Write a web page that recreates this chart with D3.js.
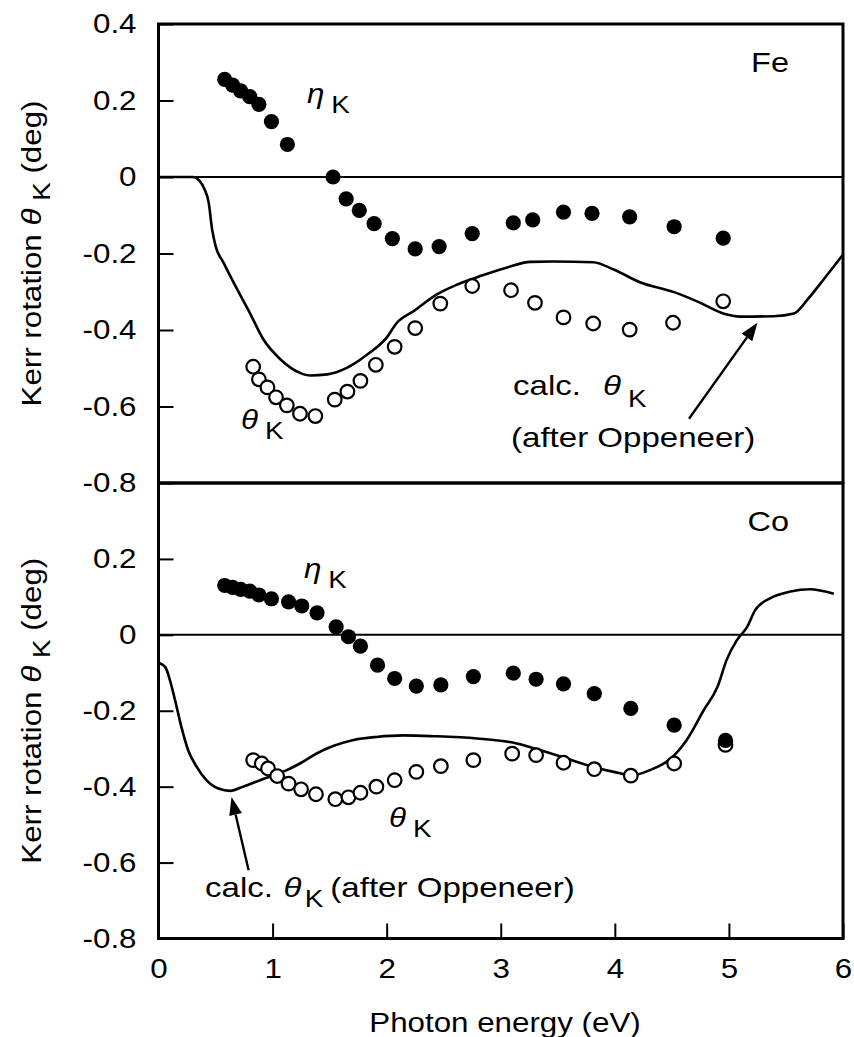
<!DOCTYPE html>
<html>
<head>
<meta charset="utf-8">
<script src="https://cdn.jsdelivr.net/npm/d3@7"></script>
<style>
  body { margin: 0; background: #fff; }
  svg { display: block; }
  text { font-family: "Liberation Sans", Arial, Helvetica, sans-serif; fill: #000; }
</style>
</head>
<body>
<svg id="chart" width="854" height="1037"></svg>
<script>
// Axis ticks
const xTicks = [0, 1, 2, 3, 4, 5, 6];
const yTicksFe = [0.4, 0.2, 0, -0.2, -0.4, -0.6, -0.8];
const yTicksCo = [0.2, 0, -0.2, -0.4, -0.6, -0.8];

// Fe: measured Kerr ellipticity (filled) and rotation (open), [photon energy eV, deg]
const feEta = [
  [0.58, 0.255], [0.65, 0.24], [0.72, 0.225], [0.80, 0.21], [0.88, 0.19],
  [0.99, 0.145], [1.13, 0.085], [1.53, 0.0], [1.645, -0.057], [1.76, -0.087],
  [1.89, -0.122], [2.05, -0.161], [2.25, -0.188], [2.46, -0.182], [2.75, -0.148],
  [3.11, -0.12], [3.28, -0.112], [3.55, -0.092], [3.80, -0.095], [4.13, -0.104],
  [4.52, -0.13], [4.95, -0.16]
];
const feTheta = [
  [0.83, -0.496], [0.88, -0.529], [0.955, -0.55], [1.03, -0.576], [1.125, -0.597],
  [1.24, -0.619], [1.375, -0.625], [1.545, -0.582], [1.656, -0.561], [1.77, -0.533],
  [1.905, -0.491], [2.07, -0.444], [2.25, -0.395], [2.47, -0.331], [2.75, -0.285],
  [3.09, -0.296], [3.30, -0.329], [3.55, -0.367], [3.81, -0.383], [4.13, -0.399],
  [4.51, -0.381], [4.95, -0.325]
];
// Fe: calculated Kerr rotation (Oppeneer)
const feCalc = [
  [0.0, 0.0], [0.30, 0.0], [0.36, -0.01], [0.40, -0.03], [0.44, -0.067], [0.47, -0.137],
  [0.50, -0.18], [0.57, -0.224], [0.69, -0.294], [0.80, -0.355], [0.92, -0.425],
  [1.07, -0.477], [1.24, -0.512], [1.33, -0.519], [1.48, -0.516], [1.65, -0.499],
  [1.83, -0.464], [2.00, -0.42], [2.09, -0.381], [2.24, -0.35], [2.44, -0.307],
  [2.62, -0.281], [2.82, -0.259], [3.05, -0.237], [3.26, -0.222], [3.46, -0.221],
  [3.81, -0.223], [3.99, -0.242], [4.22, -0.275], [4.52, -0.301], [4.75, -0.329],
  [4.95, -0.357], [5.10, -0.365], [5.39, -0.364], [5.57, -0.357], [5.69, -0.32],
  [5.83, -0.268], [6.0, -0.203]
];

// Co: measured Kerr ellipticity (filled) and rotation (open)
const coEta = [
  [0.58, 0.13], [0.65, 0.125], [0.72, 0.12], [0.80, 0.115], [0.88, 0.105],
  [0.99, 0.095], [1.14, 0.087], [1.256, 0.076], [1.39, 0.058], [1.557, 0.021],
  [1.665, -0.005], [1.77, -0.03], [1.92, -0.08], [2.07, -0.115], [2.26, -0.135],
  [2.475, -0.132], [2.76, -0.11], [3.11, -0.101], [3.31, -0.117], [3.55, -0.129],
  [3.82, -0.155], [4.14, -0.194], [4.52, -0.238], [4.97, -0.278]
];
const coTheta = [
  [0.83, -0.33], [0.905, -0.339], [0.96, -0.352], [1.04, -0.372], [1.14, -0.392],
  [1.25, -0.407], [1.38, -0.42], [1.55, -0.433], [1.665, -0.428], [1.77, -0.416],
  [1.91, -0.40], [2.07, -0.383], [2.26, -0.361], [2.475, -0.346], [2.76, -0.33],
  [3.10, -0.313], [3.31, -0.317], [3.55, -0.337], [3.82, -0.354], [4.14, -0.371],
  [4.52, -0.339], [4.97, -0.29]
];
// Co: calculated Kerr rotation (Oppeneer)
const coCalc = [
  [0.01, -0.075], [0.06, -0.085], [0.10, -0.119], [0.145, -0.172], [0.20, -0.242],
  [0.26, -0.304], [0.335, -0.348], [0.42, -0.383], [0.525, -0.405], [0.63, -0.411],
  [0.74, -0.40], [0.89, -0.383], [1.01, -0.37], [1.12, -0.357], [1.24, -0.339],
  [1.39, -0.312], [1.53, -0.293], [1.71, -0.277], [1.91, -0.269], [2.15, -0.265],
  [2.41, -0.267], [2.79, -0.273], [3.14, -0.286], [3.35, -0.304], [3.58, -0.326],
  [3.81, -0.348], [3.99, -0.361], [4.15, -0.37], [4.31, -0.356], [4.49, -0.326],
  [4.63, -0.277], [4.78, -0.198], [4.90, -0.137], [4.98, -0.066], [5.07, -0.014],
  [5.16, 0.021], [5.23, 0.065], [5.36, 0.096], [5.54, 0.114], [5.71, 0.12], [5.92, 0.108]
];

const svg = d3.select("#chart");
const SX = 1.16;            // horizontal glyph stretch of the lettering
const FS = 27;              // base font size
const FA = 28.5;            // annotation font size

const x = d3.scaleLinear().domain([0, 6]).range([158.5, 843]);
const panels = [
  { name: "Fe", eta: feEta, theta: feTheta, calc: feCalc, ticks: yTicksFe, nameY: 72,
    y: d3.scaleLinear().domain([-0.8, 0.4]).range([483, 24]) },
  { name: "Co", eta: coEta, theta: coTheta, calc: coCalc, ticks: yTicksCo, nameY: 531,
    y: d3.scaleLinear().domain([-0.8, 0.4]).range([938.5, 483]) }
];

const fmt = d => d === 0 ? "0" : d.toFixed(1);

// Text helper: stretched lettering anchored at (px, py)
function label(g, px, py, anchor, size) {
  return g.append("text")
    .attr("transform", `translate(${px},${py}) scale(${SX},1)`)
    .attr("text-anchor", anchor || "start")
    .style("font-size", (size || FS) + "px");
}

panels.forEach(p => {
  const g = svg.append("g");
  const y = p.y;
  const [x0, x1] = x.range();
  const [yb, yt] = y.range();

  // zero line
  g.append("line")
    .attr("x1", x0).attr("x2", x1)
    .attr("y1", y(0)).attr("y2", y(0))
    .attr("stroke", "#000").attr("stroke-width", 2);

  // calculated curve
  g.append("path")
    .datum(p.calc)
    .attr("fill", "none").attr("stroke", "#000").attr("stroke-width", 2.6)
    .attr("stroke-linejoin", "round")
    .attr("d", d3.line().x(d => x(d[0])).y(d => y(d[1])).curve(d3.curveMonotoneX));

  // open symbols: rotation
  g.selectAll("circle.theta").data(p.theta).join("circle")
    .attr("class", "theta")
    .attr("cx", d => x(d[0])).attr("cy", d => y(d[1])).attr("r", 6.8)
    .attr("fill", "#fff").attr("stroke", "#000").attr("stroke-width", 2.2);

  // filled symbols: ellipticity
  g.selectAll("circle.eta").data(p.eta).join("circle")
    .attr("class", "eta")
    .attr("cx", d => x(d[0])).attr("cy", d => y(d[1])).attr("r", 7.6)
    .attr("fill", "#000");

  // y axis with inward ticks
  const ya = g.append("g").attr("transform", `translate(${x0},0)`)
    .call(d3.axisLeft(y).tickValues(p.ticks).tickSize(-15).tickPadding(22).tickFormat(fmt));
  ya.select(".domain").remove();
  ya.selectAll(".tick line").attr("stroke-width", 2);
  ya.selectAll(".tick text")
    .style("font-size", FS + "px")
    .attr("font-family", null)
    .attr("x", -22 / SX)
    .attr("transform", `scale(${SX},1)`);

  // frame
  g.append("rect")
    .attr("x", x0).attr("y", yt).attr("width", x1 - x0).attr("height", yb - yt)
    .attr("fill", "none").attr("stroke", "#000").attr("stroke-width", 3);

  // y axis title
  const yt2 = g.append("text")
    .attr("transform", `translate(41,${(yt + yb) / 2}) rotate(-90) scale(${SX},1)`)
    .attr("text-anchor", "middle")
    .style("font-size", FS + "px");
  yt2.append("tspan").text("Kerr rotation ");
  yt2.append("tspan").style("font-style", "italic").text("θ");
  yt2.append("tspan").attr("dy", 9).style("font-size", "24px").text(" K");
  yt2.append("tspan").attr("dy", -9).text(" (deg)");

  // panel name
  label(g, 789, p.nameY, "end", 28).text(p.name);
});

// Bottom x axis (Co panel carries the ticks)
const yCo = panels[1].y;
const xa = svg.append("g").attr("transform", `translate(0,${yCo.range()[0]})`)
  .call(d3.axisBottom(x).tickValues(xTicks).tickSize(-15).tickPadding(20).tickFormat(d3.format("d")));
xa.select(".domain").remove();
xa.selectAll(".tick line").attr("stroke-width", 2);
xa.selectAll(".tick text")
  .style("font-size", FS + "px")
  .attr("font-family", null)
  .attr("transform", `scale(${SX},1)`);

label(svg, 505, 1032, "middle", FS).text("Photon energy (eV)");

// Annotations
function greekSub(g, px, py, sym, sub) {
  const t = label(g, px, py, "start", 27);
  t.append("tspan").style("font-style", "italic").text(sym);
  t.append("tspan").attr("dx", 6).attr("dy", 10).style("font-size", "24px").text(sub);
  return t;
}
const ann = svg.append("g");
const yFe = panels[0].y;

greekSub(ann, 307, 103, "η", "K");
greekSub(ann, 241, 429, "θ", "K");
greekSub(ann, 304, 578, "η", "K");
greekSub(ann, 389, 827, "θ", "K");

// Fe: calc. theta_K (after Oppeneer)
{
  const t = label(ann, 513, 395, "start", FA);
  t.append("tspan").text("calc.");
  t.append("tspan").attr("dx", 19).style("font-style", "italic").text("θ");
  t.append("tspan").attr("dx", 6).attr("dy", 12).style("font-size", "24px").text("K");
  label(ann, 511, 447, "start", FA).text("(after Oppeneer)");
}
// Co: calc. theta_K (after Oppeneer)
{
  const t = label(ann, 205, 897, "start", FA);
  t.append("tspan").text("calc.");
  t.append("tspan").attr("dx", 9).style("font-style", "italic").text("θ");
  t.append("tspan").attr("dx", 3).attr("dy", 10).style("font-size", "24px").text("K");
  t.append("tspan").attr("dx", 6).attr("dy", -10).text("(after Oppeneer)");
}

// Arrows pointing at the calculated curves
const arrows = [
  { y: yFe, from: [4.65, -0.632], to: [5.25, -0.381] },
  { y: yCo, from: [0.79, -0.62], to: [0.64, -0.427] }
];
arrows.forEach(a => {
  const fx = x(a.from[0]), fy = a.y(a.from[1]);
  const tx = x(a.to[0]), ty = a.y(a.to[1]);
  const ang = Math.atan2(ty - fy, tx - fx);
  const L = 18, W = 6.5;
  const bx = tx - L * Math.cos(ang), by = ty - L * Math.sin(ang);
  ann.append("line")
    .attr("x1", fx).attr("y1", fy).attr("x2", bx).attr("y2", by)
    .attr("stroke", "#000").attr("stroke-width", 2.4);
  const px = -Math.sin(ang) * W, py = Math.cos(ang) * W;
  ann.append("path")
    .attr("d", `M${tx},${ty}L${bx + px},${by + py}L${bx - px},${by - py}Z`)
    .attr("fill", "#000");
});
</script>
</body>
</html>
